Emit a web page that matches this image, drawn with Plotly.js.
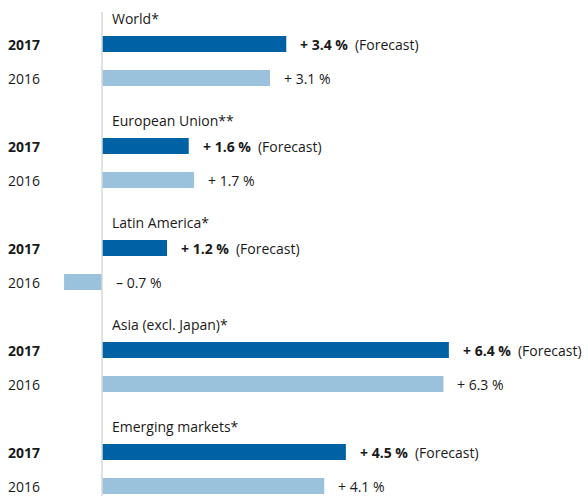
<!DOCTYPE html>
<html>
<head>
<meta charset="utf-8">
<script src="https://cdn.plot.ly/plotly-3.0.1.min.js"></script>
<style>html,body{margin:0;padding:0;background:#fff;}#chart{width:588px;height:496px;}</style>
</head>
<body>
<div id="chart"></div>
<script>
const regions = ["World*", "European Union**", "Latin America*", "Asia (excl. Japan)*", "Emerging markets*"];
const v2017 = [3.4, 1.6, 1.2, 6.4, 4.5];
const v2016 = [3.1, 1.7, -0.7, 6.3, 4.1];
const yearLabels = ["2017", "2016"];

const DARK = "#0062a4";
const LIGHT = "#9bc2dd";
const FONT = "Open Sans";
const FS = 14;

const y2017 = regions.map((_, i) => i * 3 + 1);
const y2016 = regions.map((_, i) => i * 3 + 2);
const yTitle = regions.map((_, i) => i * 3);

function fmt(v) {
  const s = Math.abs(v).toFixed(1);
  return (v < 0 ? "\u2013 " : "+ ") + s + " %";
}

const traces = [
  {type: "bar", orientation: "h", x: v2017, y: y2017, marker: {color: DARK}, width: 0.47, hoverinfo: "none"},
  {type: "bar", orientation: "h", x: v2016, y: y2016, marker: {color: LIGHT}, width: 0.47, hoverinfo: "none"}
];

const annotations = [];
regions.forEach((r, i) => {
  annotations.push({x: 0, y: yTitle[i], xref: "x", yref: "y", text: r, showarrow: false,
    xanchor: "left", xshift: 8, yshift: -8, font: {family: FONT, size: FS, color: "#1a1a1a"}});
  annotations.push({x: 0, y: y2017[i], xref: "paper", yref: "y", text: "<b>" + yearLabels[0] + "</b>", showarrow: false,
    xanchor: "left", xshift: 6, font: {family: FONT, size: FS, color: "#1a1a1a"}});
  annotations.push({x: 0, y: y2016[i], xref: "paper", yref: "y", text: yearLabels[1], showarrow: false,
    xanchor: "left", xshift: 6, font: {family: FONT, size: FS, color: "#1a1a1a"}});
  annotations.push({x: Math.max(v2017[i], 0), y: y2017[i], xref: "x", yref: "y",
    text: "<b>" + fmt(v2017[i]) + "</b>\u2002(Forecast)", showarrow: false,
    xanchor: "left", xshift: 12, font: {family: FONT, size: FS, color: "#1a1a1a"}});
  annotations.push({x: Math.max(v2016[i], 0), y: y2016[i], xref: "x", yref: "y",
    text: fmt(v2016[i]), showarrow: false,
    xanchor: "left", xshift: 12, font: {family: FONT, size: FS, color: "#1a1a1a"}});
});

const layout = {
  width: 588, height: 496,
  margin: {l: 0, r: 0, t: 0, b: 0},
  paper_bgcolor: "#fff", plot_bgcolor: "#fff",
  showlegend: false,
  barmode: "overlay",
  xaxis: {range: [-1.882, 8.967], showgrid: false, zeroline: false, showticklabels: false, ticks: "", fixedrange: true},
  yaxis: {range: [14.294, -0.294], showgrid: false, zeroline: false, showticklabels: false, ticks: "", fixedrange: true},
  shapes: [{type: "line", xref: "x", yref: "y", x0: 0, x1: 0, y0: 0.06, y1: 14.3, line: {color: "#d9d9d9", width: 1.5}}],
  annotations: annotations
};

Plotly.newPlot("chart", traces, layout, {staticPlot: true, displayModeBar: false});
</script>
</body>
</html>
